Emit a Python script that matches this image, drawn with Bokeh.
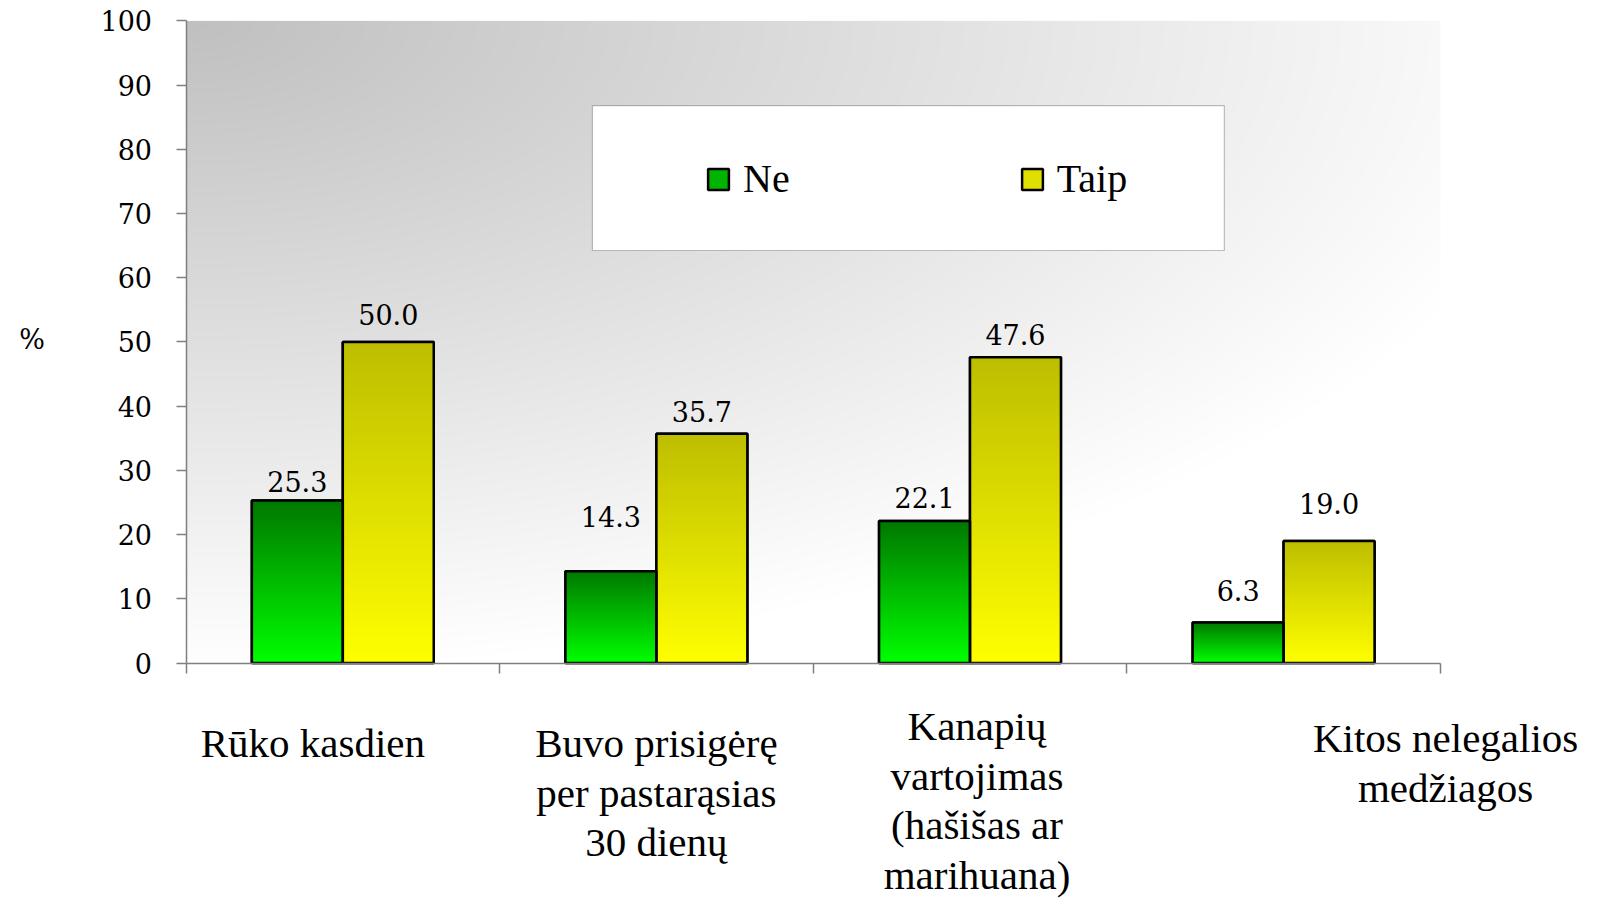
import numpy as np
from bokeh.plotting import figure
from bokeh.models import (Range1d, FixedTicker, ColumnDataSource, LabelSet,
                          Legend, LegendItem, BoxAnnotation)
from bokeh.embed import file_html
from bokeh.resources import INLINE
from bokeh.core.properties import value

# ---------------- data ----------------
categories = [
    "Rūko kasdien",
    "Buvo prisigėrę\nper pastarąsias\n30 dienų",
    "Kanapių\nvartojimas\n(hašišas ar\nmarihuana)",
    "Kitos nelegalios\nmedžiagos",
]
series_names = ["Ne", "Taip"]
ne_values = [25.3, 14.3, 22.1, 6.3]
taip_values = [50.0, 35.7, 47.6, 19.0]
y_ticks = [0, 10, 20, 30, 40, 50, 60, 70, 80, 90, 100]
y_axis_title = "%"

# ---------------- style / layout (px) ----------------
ne_label_dy = [9, 44, 13, 22]
taip_label_dy = [17, 12, 12, 27]
cat_dx = [-30, 0, 7, 162]
cat_dy = [57, 57, 40, 52]
BW = 0.29
AXIS_COLOR = "#7f7f7f"
FIG_W, FIG_H = 1582, 900
ORIGIN_X, ORIGIN_Y = 185.5, 662.5      # pixel position of (0, 0)
PX_PER_CAT, PX_PER_PCT = 313.6, 6.421

n = len(categories)
centers = np.arange(n) + 0.5
x_start = -ORIGIN_X / PX_PER_CAT
x_end = (FIG_W - ORIGIN_X) / PX_PER_CAT
y_start = -(FIG_H - ORIGIN_Y) / PX_PER_PCT
y_end = 100 + (ORIGIN_Y - 100 * PX_PER_PCT) / PX_PER_PCT

p = figure(width=FIG_W, height=FIG_H, x_range=Range1d(x_start, x_end),
           y_range=Range1d(y_start, y_end),
           output_backend="svg", toolbar_location=None,
           min_border_left=0, min_border_right=0, min_border_top=0,
           min_border_bottom=0)
p.grid.visible = False
p.outline_line_color = None
p.background_fill_color = "white"
p.border_fill_color = "white"

# background gradient (grey at top-left fading to white)
H, W = 321, 627
py = np.linspace(0, 642, H)[:, None]
px = np.linspace(0, 1254, W)[None, :]
d = np.sqrt((px / 1400.0) ** 2 + (py / 650.0) ** 2)
g = (192 + 63 * np.clip(d, 0, 1)).astype(np.uint8)[::-1]
bg = np.zeros((H, W), dtype=np.uint32)
v = bg.view(dtype=np.uint8).reshape((H, W, 4))
v[..., 0] = g
v[..., 1] = g
v[..., 2] = g
v[..., 3] = 255
p.image_rgba(image=[bg], x=0, y=0, dw=n, dh=100)


def vgrad(top, bottom, rows=256, cols=4):
    img = np.zeros((rows, cols), dtype=np.uint32)
    vv = img.view(dtype=np.uint8).reshape((rows, cols, 4))
    t = np.linspace(0, 1, rows)[:, None]
    for k in range(3):
        vv[..., k] = (bottom[k] + (top[k] - bottom[k]) * t).astype(np.uint8)
    vv[..., 3] = 255
    return img


green_img = vgrad((0, 120, 0), (0, 255, 0))
yellow_img = vgrad((190, 190, 0), (255, 255, 0))

ne_x = centers - BW / 2
taip_x = centers + BW / 2

# solid bars (legend swatches; covered by gradients)
r_ne = p.vbar(x=ne_x, top=ne_values, width=BW, fill_color="#00b400",
              line_color="black", line_width=2.5)
r_taip = p.vbar(x=taip_x, top=taip_values, width=BW, fill_color="#e0e000",
                line_color="black", line_width=2.5)

p.image_rgba(image=[green_img] * n, x=list(centers - BW), y=[0] * n,
             dw=[BW] * n, dh=ne_values)
p.image_rgba(image=[yellow_img] * n, x=list(centers), y=[0] * n,
             dw=[BW] * n, dh=taip_values)

p.vbar(x=ne_x, top=ne_values, width=BW, fill_alpha=0, line_color="black", line_width=2.5)
p.vbar(x=taip_x, top=taip_values, width=BW, fill_alpha=0, line_color="black", line_width=2.5)

# value labels
lab_src = ColumnDataSource(dict(
    x=list(ne_x) + list(taip_x),
    y=ne_values + taip_values,
    text=[f"{val:.1f}" for val in ne_values + taip_values],
    dy=ne_label_dy + taip_label_dy,
))
p.add_layout(LabelSet(x="x", y="y", text="text", y_offset="dy", source=lab_src,
                      text_align="center", text_baseline="bottom",
                      text_font=value("DejaVu Serif"), text_font_size="27px",
                      text_color="black"))

# category labels
cat_src = ColumnDataSource(dict(x=list(centers), y=[0] * n, text=categories,
                                dx=cat_dx, dy=cat_dy))
p.text(x="x", y="y", text="text", x_offset="dx", y_offset="dy", source=cat_src,
       text_align="center", text_baseline="top",
       text_font=value("Liberation Serif"), text_font_size=value("41px"),
       text_line_height=1.08, text_color="black")

# "%" axis title
p.text(x=[0], y=[50], text=[y_axis_title], x_offset=-154, y_offset=-2,
       text_align="center", text_baseline="middle",
       text_font=value("DejaVu Serif"), text_font_size=value("27px"),
       text_color="black")

# y axis at x=0
ya = p.yaxis[0]
ya.fixed_location = 0
ya.bounds = (0, 100)
ya.ticker = FixedTicker(ticks=y_ticks)
ya.major_tick_out = 10
ya.major_tick_in = 0
ya.minor_tick_out = 0
ya.minor_tick_in = 0
ya.axis_line_color = AXIS_COLOR
ya.axis_line_width = 1.5
ya.major_tick_line_color = AXIS_COLOR
ya.major_tick_line_width = 1.5
ya.major_label_text_font = "DejaVu Serif"
ya.major_label_text_font_size = "27px"
ya.major_label_text_color = "black"
ya.major_label_standoff = 24

# x axis at y=0: ticks at category boundaries only
xa = p.xaxis[0]
xa.fixed_location = 0
xa.bounds = (0, n)
xa.ticker = FixedTicker(ticks=[], minor_ticks=list(range(n + 1)))
xa.major_label_text_font_size = "0px"
xa.major_tick_out = 0
xa.major_tick_in = 0
xa.minor_tick_out = 10
xa.minor_tick_in = 0
xa.minor_tick_line_color = AXIS_COLOR
xa.minor_tick_line_width = 1.5
xa.axis_line_color = AXIS_COLOR
xa.axis_line_width = 1.5

# legend box + legend
p.add_layout(BoxAnnotation(left=1.296, right=3.311, bottom=64.24, top=86.8,
                           fill_color="white", fill_alpha=1.0,
                           line_color="#333333", line_width=1.2, level="annotation"))
legend = Legend(items=[LegendItem(label=series_names[0], renderers=[r_ne]),
                       LegendItem(label=series_names[1], renderers=[r_taip])],
                orientation="horizontal", location=(705, 698), padding=0, margin=0,
                spacing=229, label_standoff=12, glyph_width=26, glyph_height=26,
                label_text_font="Liberation Serif", label_text_font_size="40px",
                label_text_color="black",
                border_line_alpha=0, background_fill_alpha=0)
p.add_layout(legend)

open("out.html", "w").write(file_html(p, INLINE))
